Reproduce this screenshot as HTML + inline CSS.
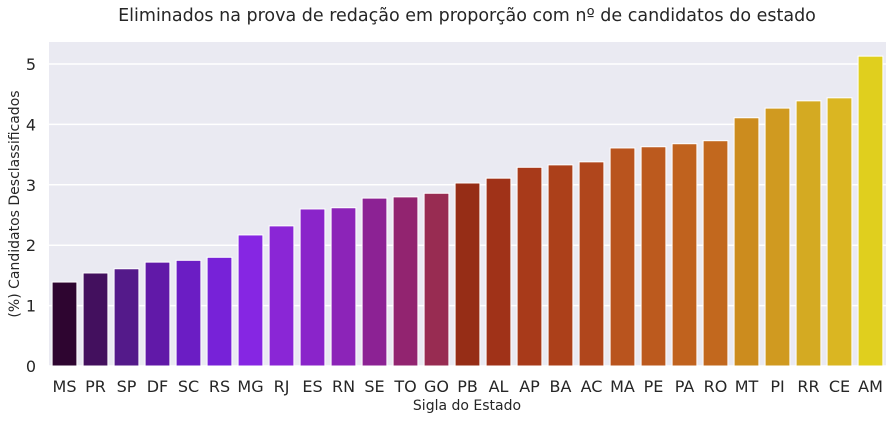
<!DOCTYPE html>
<html><head><meta charset="utf-8"><style>
body{margin:0;background:#fff;width:892px;height:420px;overflow:hidden}
svg text{font-family:"DejaVu Sans","Liberation Sans",sans-serif;fill:#262626}
</style></head><body>
<svg id="c" width="892" height="420"></svg>
<script>
const categories=["MS","PR","SP","DF","SC","RS","MG","RJ","ES","RN","SE","TO","GO","PB","AL","AP","BA","AC","MA","PE","PA","RO","MT","PI","RR","CE","AM"];
const values=[1.39,1.54,1.61,1.72,1.75,1.80,2.17,2.32,2.60,2.62,2.78,2.80,2.86,3.03,3.11,3.29,3.33,3.38,3.61,3.63,3.68,3.73,4.11,4.27,4.39,4.44,5.13];
const colors=["#2e0530","#43105e","#541a8a","#6119a8","#6b1dc4","#7722d8","#8626e3","#8a26d6","#8a24ca","#8c24b8","#8c2294","#922470","#982c52","#962d16","#a03218","#a83a1a","#ac401a","#b0461c","#b9541e","#bc5a1e","#c0621e","#c2681e","#cc8c1e","#d09a20","#d4aa22","#dab622","#e0cf1e"];
const yTicks=[0,1,2,3,4,5];
const L=49,R=886,T=42,B=366,yMax=(B-T)/60.4;
const NS="http://www.w3.org/2000/svg";
const svg=document.getElementById('c');
const y=v=>B-v*(B-T)/yMax;
const band=(R-L)/categories.length;
const x=i=>L+i*band;
function mk(t,a){const e=document.createElementNS(NS,t);for(const k in a)e.setAttribute(k,a[k]);svg.appendChild(e);return e;}
let bg=mk('rect',{x:L,y:T,width:R-L,height:B-T,fill:'#eaeaf2'});


yTicks.forEach(t=>{
 let g=mk('line',{x1:L,x2:R,y1:y(t),y2:y(t),stroke:'#fff','stroke-width':1.5});
 
 
 let tx=mk('text',{x:36,y:y(t)+6,'text-anchor':'end','font-size':16});
 tx.textContent=t;
 
 
});
categories.forEach((c,i)=>{
 const w=band*0.8,bx=x(i)+band*0.1;
 let r=mk('rect',{x:bx,y:y(values[i]),width:w,height:B-y(values[i]),fill:colors[i],stroke:'#fff','stroke-width':1});
 
 
 let tx=mk('text',{x:x(i)+band/2,y:392,'text-anchor':'middle','font-size':16});
 tx.textContent=c;
 
 
});
let ti=mk('text',{x:467,y:21,'text-anchor':'middle','font-size':17.5});
ti.textContent="Eliminados na prova de redação em proporção com nº de candidatos do estado";


let xl=mk('text',{x:467,y:410,'text-anchor':'middle','font-size':14});
xl.textContent="Sigla do Estado";


let yl=mk('text',{x:0,y:0,'text-anchor':'middle','font-size':14,transform:'translate(19,204) rotate(-90)'});
yl.textContent="(%) Candidatos Desclassificados";


</script>
</body></html>
